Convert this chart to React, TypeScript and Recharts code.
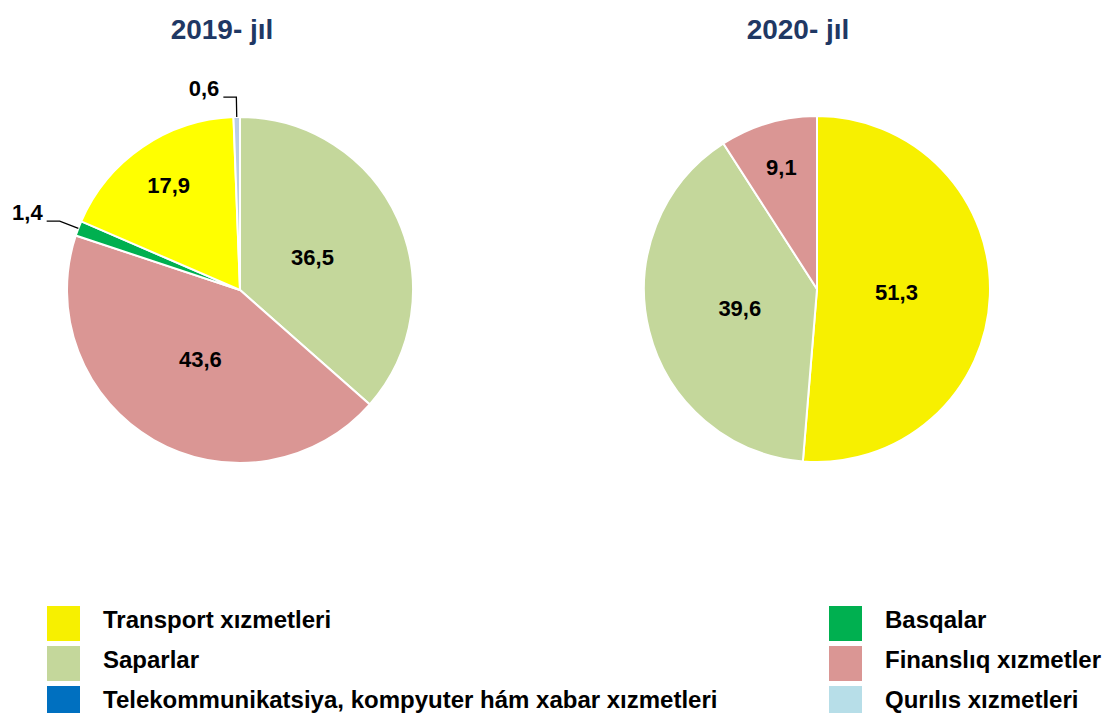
import React from "react";
import { PieChart, Pie, Cell } from "recharts";

// 2019 slices, clockwise from 12 o'clock
const categories2019 = ["Saparlar", "Finanslıq xızmetler", "Basqalar", "Transport xızmetleri", "Qurılıs xızmetleri"];
const values2019 = [36.5, 43.6, 1.4, 17.9, 0.6];

// 2020 slices, clockwise from 12 o'clock
const categories2020 = ["Transport xızmetleri", "Saparlar", "Finanslıq xızmetler"];
const values2020 = [51.3, 39.6, 9.1];

const titles = ["2019- jıl", "2020- jıl"];

const legendLeft = ["Transport xızmetleri", "Saparlar", "Telekommunikatsiya, kompyuter hám xabar xızmetleri"];
const legendRight = ["Basqalar", "Finanslıq xızmetler", "Qurılıs xızmetleri"];

const COLORS: Record<string, string> = {
  "Transport xızmetleri": "#F7F000",
  Saparlar: "#C4D79B",
  "Telekommunikatsiya, kompyuter hám xabar xızmetleri": "#0070C0",
  Basqalar: "#00B050",
  "Finanslıq xızmetler": "#DA9694",
  "Qurılıs xızmetleri": "#B7DEE8",
};

// the 2019 pie uses slightly different fills in the source
const COLORS_2019: Record<string, string> = {
  ...COLORS,
  "Transport xızmetleri": "#FFFF00",
  "Qurılıs xızmetleri": "#B9CDE5",
};

const FONT = "'Liberation Sans', Arial, sans-serif";
const RADIAN = Math.PI / 180;

const fmt = (v: number) => v.toFixed(1).replace(".", ",");

const toRows = (cats: string[], vals: number[]) => cats.map((name, i) => ({ name, value: vals[i] }));

const renderLabel = (props: any) => {
  const { cx, cy, midAngle, outerRadius, value, percent } = props;
  const cos = Math.cos(-midAngle * RADIAN);
  const sin = Math.sin(-midAngle * RADIAN);
  if (percent < 0.03) {
    // small slice: leader line out to the left
    const x0 = cx + outerRadius * cos;
    const y0 = cy + outerRadius * sin;
    const x1 = cx + (outerRadius + 20) * cos;
    const y1 = cy + (outerRadius + 20) * sin;
    const x2 = x1 - 13;
    return (
      <g>
        <polyline points={`${x0},${y0} ${x1},${y1} ${x2},${y1}`} fill="none" stroke="#000" strokeWidth={1.3} />
        <text x={x2 - 4} y={y1 - 1} textAnchor="end" fontFamily={FONT} fontWeight="bold" fontSize={22} fill="#000">
          {fmt(value)}
        </text>
      </g>
    );
  }
  const r = outerRadius * (percent > 0.3 ? 0.46 : 0.73);
  return (
    <text
      x={cx + r * cos}
      y={cy + r * sin}
      textAnchor="middle"
      dominantBaseline="central"
      fontFamily={FONT}
      fontWeight="bold"
      fontSize={22}
      fill="#000"
    >
      {fmt(value)}
    </text>
  );
};

const LegendItem = ({ name }: { name: string }) => (
  <div style={{ display: "flex", alignItems: "center", height: 40 }}>
    <div style={{ width: 33, height: 35, background: COLORS[name], marginRight: 23 }} />
    <span style={{ fontFamily: FONT, fontWeight: "bold", fontSize: 24, color: "#000", marginTop: -6, whiteSpace: "nowrap" }}>
      {name}
    </span>
  </div>
);

export default function App() {
  const data2019 = toRows(categories2019, values2019);
  const data2020 = toRows(categories2020, values2020);

  return (
    <div style={{ position: "absolute", left: 0, top: 0, width: 1103, height: 713, overflow: "hidden", background: "#fff" }}>
      {titles.map((t, i) => (
        <div
          key={t}
          style={{
            position: "absolute",
            top: 16,
            left: i === 0 ? 122 : 698,
            width: 200,
            textAlign: "center",
            fontFamily: FONT,
            fontWeight: "bold",
            fontSize: 28,
            lineHeight: "28px",
            color: "#1F3864",
          }}
        >
          {t}
        </div>
      ))}

      <div style={{ position: "absolute", left: 0, top: 0 }}>
        <PieChart width={1103} height={520} margin={{ top: 0, right: 0, bottom: 0, left: 0 }}>
          <Pie
            data={data2019}
            dataKey="value"
            nameKey="name"
            cx={240}
            cy={290}
            outerRadius={173}
            startAngle={90}
            endAngle={-270}
            stroke="#fff"
            strokeWidth={2}
            labelLine={false}
            label={renderLabel}
            isAnimationActive={false}
          >
            {data2019.map((d) => (
              <Cell key={d.name} fill={COLORS_2019[d.name]} />
            ))}
          </Pie>
          <Pie
            data={data2020}
            dataKey="value"
            nameKey="name"
            cx={817}
            cy={289}
            outerRadius={173}
            startAngle={90}
            endAngle={-270}
            stroke="#fff"
            strokeWidth={2}
            labelLine={false}
            label={renderLabel}
            isAnimationActive={false}
          >
            {data2020.map((d) => (
              <Cell key={d.name} fill={COLORS[d.name]} />
            ))}
          </Pie>
        </PieChart>
      </div>

      <div style={{ position: "absolute", left: 47, top: 603 }}>
        {legendLeft.map((n) => (
          <LegendItem key={n} name={n} />
        ))}
      </div>
      <div style={{ position: "absolute", left: 829, top: 603 }}>
        {legendRight.map((n) => (
          <LegendItem key={n} name={n} />
        ))}
      </div>
    </div>
  );
}
